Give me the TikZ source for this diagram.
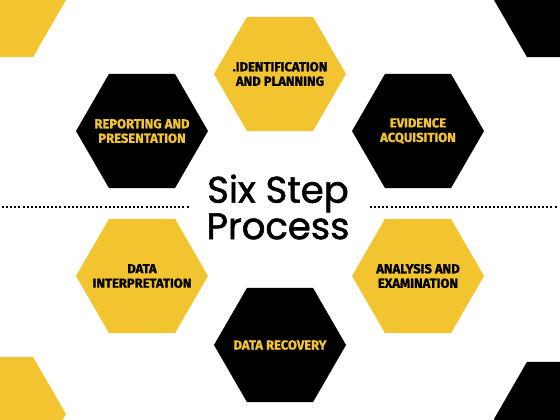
\documentclass[tikz,border=0pt]{standalone}
\usepackage{fontspec}
\setmainfont{Fira Sans}
\newfontfamily\titlefont{Poppins}[FakeBold=1.5]
\newfontfamily\hexfont{Fira Sans}[UprightFont=*-Bold, FakeBold=1.2]
\usetikzlibrary{shapes.geometric}
\definecolor{hexyellow}{HTML}{F2C430}
\tikzset{
  hexbase/.style={regular polygon, regular polygon sides=6,
    minimum size=132pt, inner sep=0pt, outer sep=0pt},
  hexyel/.style={hexbase, fill=hexyellow},
  hexblk/.style={hexbase, fill=black},
  labbase/.style={align=center, inner sep=0pt, font=\hexfont\fontsize{13}{14.5}\selectfont},
  labyel/.style={labbase, text=black},
  labblk/.style={labbase, text=hexyellow},
  dotline/.style={line width=2pt, dash pattern=on 2pt off 2.1pt},
}
\begin{document}
\begin{tikzpicture}[x=1pt,y=-1pt]
\useasboundingbox (0,0) rectangle (560,420);
\begin{scope}
\clip (0,0) rectangle (560,420);
\node[hexyel] (c1) at (0,0) {};
\node[hexblk] (c2) at (560,0) {};
\node[hexyel] (c3) at (0,414) {};
\node[hexblk] (c4) at (560,419) {};
\end{scope}
\node[hexyel] (s1) at (280,74) {};
\node[hexblk] (s2) at (418,131) {};
\node[hexyel] (s3) at (418,276) {};
\node[hexblk] (s4) at (280,345) {};
\node[hexyel] (s5) at (142,276) {};
\node[hexblk] (s6) at (142,131) {};
\node[labyel] (t1) at (s1) {.IDENTIFICATION\\AND PLANNING};
\node[labblk] (t2) at (s2) {EVIDENCE\\ACQUISITION};
\node[labyel] (t3) at (s3) {ANALYSIS AND\\EXAMINATION};
\node[labblk] (t4) at (s4) {DATA RECOVERY};
\node[labyel] (t5) at (s5) {DATA\\INTERPRETATION};
\node[labblk] (t6) at (s6) {REPORTING AND\\PRESENTATION};
\node[font=\titlefont\fontsize{37}{33}\selectfont, align=center] (title) at (278,207) {Six Step\\Process};
\coordinate (l1) at (2,207);
\coordinate (l2) at (190,207);
\coordinate (r1) at (370,207);
\coordinate (r2) at (558,207);
\draw[dotline] (l1) -- (l2);
\draw[dotline] (r1) -- (r2);
\end{tikzpicture}
\end{document}
